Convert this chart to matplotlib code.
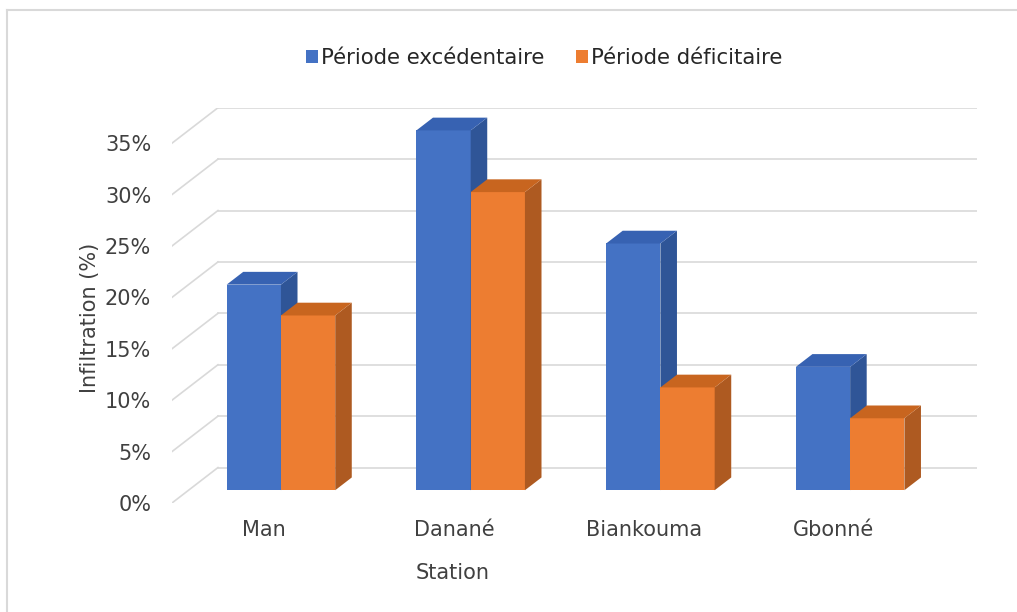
import matplotlib
matplotlib.use('Agg')
import matplotlib.pyplot as plt
from matplotlib.patches import Polygon, Patch
from matplotlib.lines import Line2D

# data (%)
stations = ['Man', 'Danané', 'Biankouma', 'Gbonné']
excedentaire = [20, 35, 24, 12]
deficitaire = [17, 29, 10, 7]
series_names = ['Période excédentaire', 'Période déficitaire']
y_ticks = [0, 5, 10, 15, 20, 25, 30, 35]

# fake 3D look: colours for front / side / top faces
blue = ('#4472C4', '#2F5597', '#3762B2')
orange = ('#ED7D31', '#AE5A21', '#C8651F')

plt.rcParams['font.family'] = ['DejaVu Sans']
txt_col = '#404040'
fs = 15

# depth of the whole box (category units, percent units) and bar depth slot
Wx, Wy = 0.2425, 3.45
t0, t1 = 0.36, 0.72
bar_w = 0.286
x_left, x_right = -0.487, 3.512

fig = plt.figure(figsize=(10.17, 6.12), dpi=100)
ax = fig.add_axes([0.1691, 0.1781, 0.7913, 0.6459])
ax.set_xlim(x_left, x_right + Wx)
ax.set_ylim(0, y_ticks[-1] + Wy)

# walls: back gridlines and side-wall diagonals
grid_col = '#d9d9d9'
for v in y_ticks:
    ax.plot([x_left + Wx, x_right + Wx], [v + Wy, v + Wy], color=grid_col, lw=1.2, zorder=1)
    ax.plot([x_left, x_left + Wx], [v, v + Wy], color=grid_col, lw=1.2, zorder=1)


def bar3d(x0, v, cols, z):
    # front face through ax.bar, sides/top as polygons in data coords
    ax.bar(x0 + t0 * Wx, v, width=bar_w, bottom=t0 * Wy, align='edge',
           color=cols[0], linewidth=0, zorder=z)
    xr = x0 + bar_w
    side = [(xr + t0 * Wx, t0 * Wy), (xr + t1 * Wx, t1 * Wy),
            (xr + t1 * Wx, v + t1 * Wy), (xr + t0 * Wx, v + t0 * Wy)]
    top = [(x0 + t0 * Wx, v + t0 * Wy), (xr + t0 * Wx, v + t0 * Wy),
           (xr + t1 * Wx, v + t1 * Wy), (x0 + t1 * Wx, v + t1 * Wy)]
    ax.add_patch(Polygon(side, closed=True, facecolor=cols[1], edgecolor='none', zorder=z))
    ax.add_patch(Polygon(top, closed=True, facecolor=cols[2], edgecolor='none', zorder=z))


for i in range(len(stations)):
    bar3d(i - bar_w, excedentaire[i], blue, 3 + 2 * i)
    bar3d(i, deficitaire[i], orange, 4 + 2 * i)

for s in ax.spines.values():
    s.set_visible(False)

ax.set_yticks(y_ticks)
ax.set_yticklabels(['%d%%' % v for v in y_ticks])
ax.set_xticks(range(len(stations)))
ax.set_xticklabels(stations)
ax.tick_params(axis='y', length=0, pad=15, labelsize=fs, labelcolor=txt_col)
ax.tick_params(axis='x', length=0, pad=12, labelsize=fs, labelcolor=txt_col)

ax.set_xlabel('Station', fontsize=fs, color=txt_col)
ax.xaxis.set_label_coords(0.3486, -0.177)
ax.xaxis.label.set_va('center')
ax.set_ylabel('Infiltration (%)', fontsize=fs, color=txt_col)
ax.yaxis.set_label_coords(-0.102, 0.468)
ax.yaxis.label.set_va('center')

handles = [Patch(facecolor=blue[0]), Patch(facecolor=orange[0])]
fig.legend(handles, series_names, loc='center', bbox_to_anchor=(0.5354, 0.905), ncol=2,
           frameon=False, fontsize=15.3, handlelength=0.55, handleheight=0.55,
           handletextpad=0.15, columnspacing=1.5, labelcolor='#262626')

# thin chart-area border (top and left visible in the original)
fig.add_artist(Line2D([0.007, 1.0], [0.984, 0.984], color='#d9d9d9', lw=1.5, transform=fig.transFigure))
fig.add_artist(Line2D([0.007, 0.007], [0.0, 0.984], color='#d9d9d9', lw=1.5, transform=fig.transFigure))

fig.savefig('out.png', dpi=100)
